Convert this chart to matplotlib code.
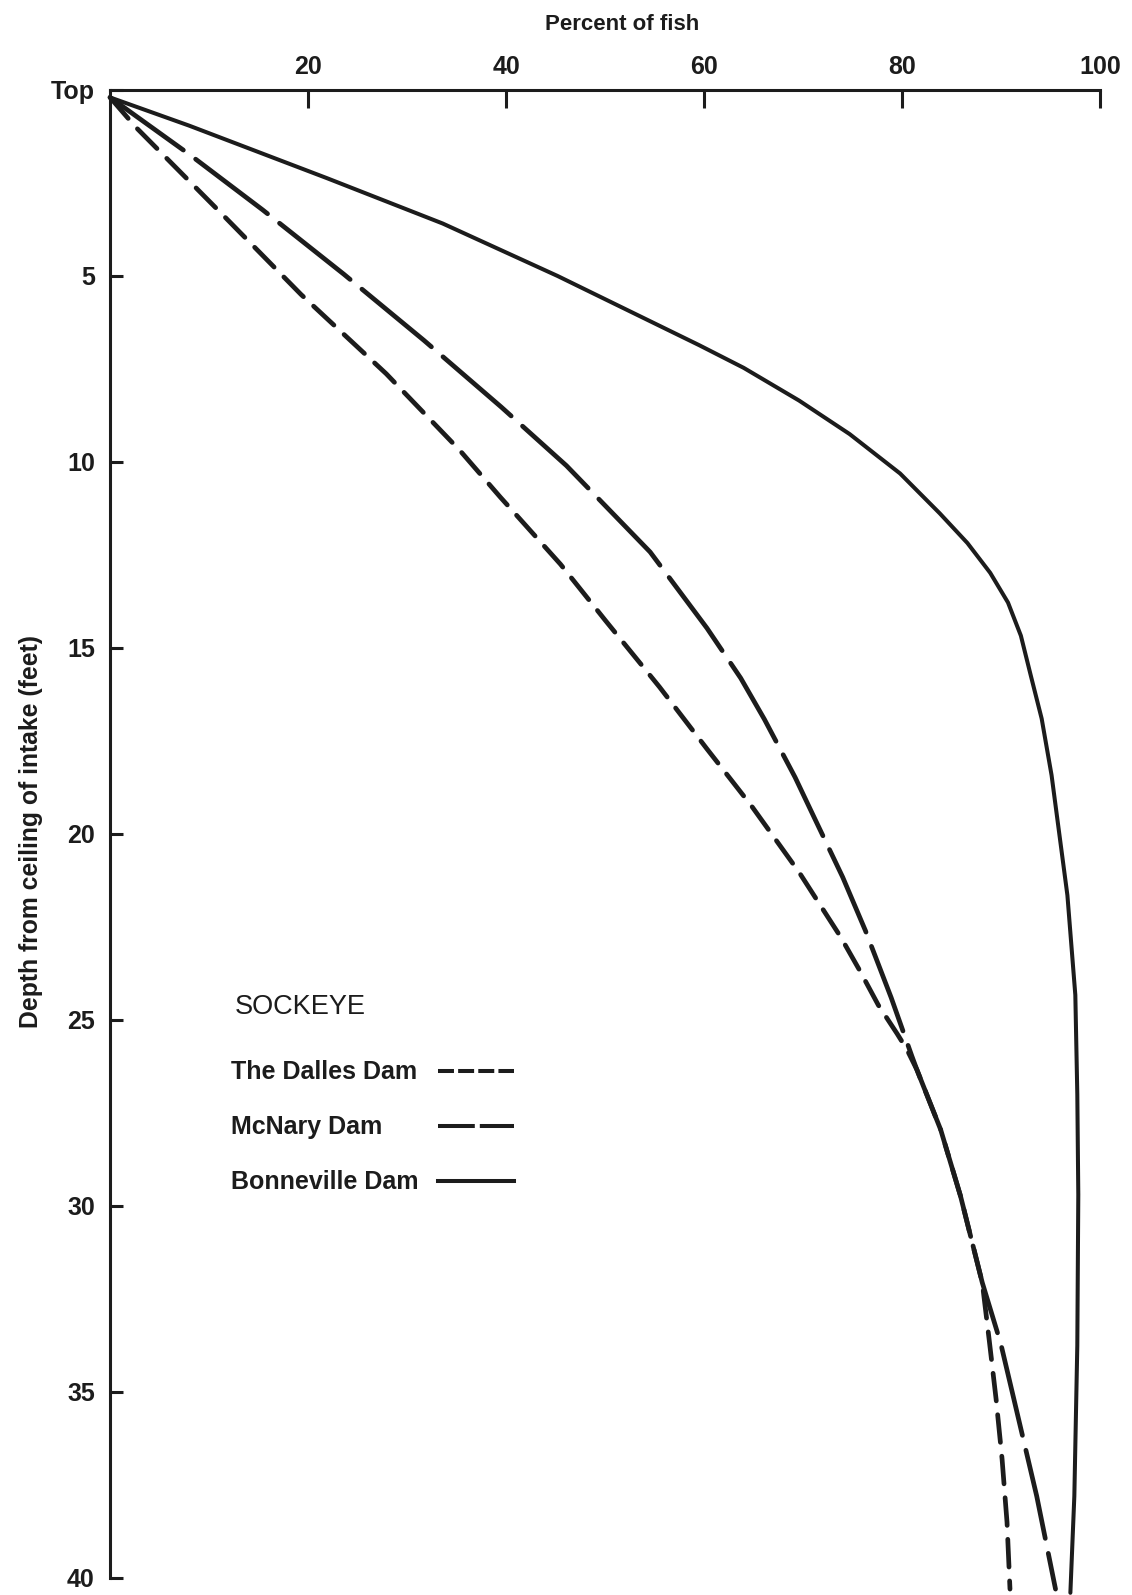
import matplotlib.pyplot as plt
from matplotlib.lines import Line2D

# Fuente parecida a Helvetica
plt.rcParams['font.family'] = ['Liberation Sans', 'DejaVu Sans']
plt.rcParams['lines.scale_dashes'] = False

# Datos (porcentaje de peces vs profundidad en pies)
dalles_pct = [0, 2.6, 11.1, 19.3, 27.9, 35.3, 39.4, 45.5, 50.06, 55.5, 60.25, 64.8,
              69.6, 73.8, 75.7, 77.6, 79.5, 80.5, 81.5, 83.9, 85.9, 88.1, 88.8,
              89.5, 90.1, 90.6, 90.9]
dalles_depth = [0.2, 1.0, 3.28, 5.5, 7.63, 9.68, 10.94, 12.75, 14.27, 16.05, 17.7, 19.25,
                21.03, 22.77, 23.66, 24.6, 25.37, 25.8, 26.34, 27.95, 29.73, 32.06, 33.6,
                35.2, 36.8, 38.5, 40.3]

mcnary_pct = [0, 8.0, 15.4, 23.6, 31.7, 39.5, 46.1, 54.55, 60.3, 63.7, 66.1,
              69.2, 71.2, 74.0, 76.3, 78.9, 81.0, 81.5, 83.9, 85.9, 88.1, 89.97,
              91.3, 93.6, 95.5]
mcnary_depth = [0.2, 1.73, 3.22, 4.95, 6.73, 8.52, 10.1, 12.42, 14.47, 15.81, 16.92,
                18.48, 19.6, 21.16, 22.6, 24.4, 25.98, 26.34, 27.95, 29.73, 32.06, 33.7,
                35.2, 37.8, 40.3]

bonneville_pct = [0, 8.0, 21.9, 33.6, 45.2, 59.5, 64.0, 69.6, 74.7, 79.8, 83.8, 86.6,
                  88.9, 90.7, 92.0, 93.0, 94.1, 95.1, 96.7, 97.5, 97.7, 97.8, 97.7,
                  97.4, 97.0]
bonneville_depth = [0.2, 0.96, 2.37, 3.59, 5.0, 6.86, 7.47, 8.35, 9.25, 10.31, 11.38, 12.18,
                    12.98, 13.78, 14.67, 15.74, 16.9, 18.42, 21.65, 24.33, 27.0, 29.7, 33.75,
                    37.8, 40.4]

series_names = ["The Dalles Dam", "McNary Dam", "Bonneville Dam"]
pct_ticks = [20, 40, 60, 80, 100]
depth_ticks = [0, 5, 10, 15, 20, 25, 30, 35, 40]
depth_labels = ["Top", "5", "10", "15", "20", "25", "30", "35", "40"]

tinta = "#1c1c1c"
W, H = 1132, 1595

fig = plt.figure(figsize=(W / 100, H / 100), dpi=100)
ax = fig.add_axes([0.0972, 0.0107, 0.8746, 0.9329])

# Curvas
ax.plot(dalles_pct, dalles_depth, color=tinta, lw=3.4, dashes=(20, 10),
        dash_capstyle="round", dash_joinstyle="round", clip_on=False)
ax.plot(mcnary_pct, mcnary_depth, color=tinta, lw=3.4, dashes=(65, 11),
        dash_capstyle="round", dash_joinstyle="round", clip_on=False)
ax.plot(bonneville_pct, bonneville_depth, color=tinta, lw=2.9,
        solid_capstyle="round", solid_joinstyle="round", clip_on=False)

# Ejes
ax.set_xlim(0, 100)
ax.set_ylim(40, 0)
ax.xaxis.tick_top()
ax.set_xticks(pct_ticks)
ax.set_xticklabels([str(t) for t in pct_ticks])
ax.set_yticks(depth_ticks)
ax.set_yticklabels(depth_labels)
ax.tick_params(axis="x", direction="in", length=13, width=2.2, pad=8,
               labelsize=18, colors=tinta)
ax.tick_params(axis="y", direction="in", length=9.5, width=2.2, pad=11,
               labelsize=18, colors=tinta)
for lbl in ax.get_xticklabels() + ax.get_yticklabels():
    lbl.set_fontweight("bold")

for lado in ["right", "bottom"]:
    ax.spines[lado].set_visible(False)
for lado in ["left", "top"]:
    ax.spines[lado].set_linewidth(2.2)
    ax.spines[lado].set_color(tinta)

fig.text(622 / W, 1 - 25 / H, "Percent of fish", ha="center", va="center",
         fontsize=16, fontweight="bold", color=tinta)
fig.text(31 / W, 1 - 831 / H, "Depth from ceiling of intake (feet)",
         ha="center", va="center", rotation=90, fontsize=17.8, fontweight="bold",
         color=tinta)

# Leyenda dibujada a mano: textos alineados a la izquierda, muestras a la derecha
fig.text(235 / W, 1 - 1007 / H, "SOCKEYE", ha="left", va="center",
         fontsize=19.5, color=tinta)
fila_y = [1072, 1127, 1182]
estilos = [dict(dashes=(11.5, 3)), dict(dashes=(26.5, 3.6)), dict()]
for nombre, yy, estilo in zip(series_names, fila_y, estilos):
    fig.text(231 / W, 1 - yy / H, nombre, ha="left", va="center",
             fontsize=18, fontweight="bold", color=tinta)
    fig.add_artist(Line2D([438 / W, 514 / W], [1 - (yy - 1) / H, 1 - (yy - 1) / H],
                          transform=fig.transFigure, color=tinta, lw=2.9, **estilo))

fig.savefig("out.png", dpi=100, facecolor="white")
